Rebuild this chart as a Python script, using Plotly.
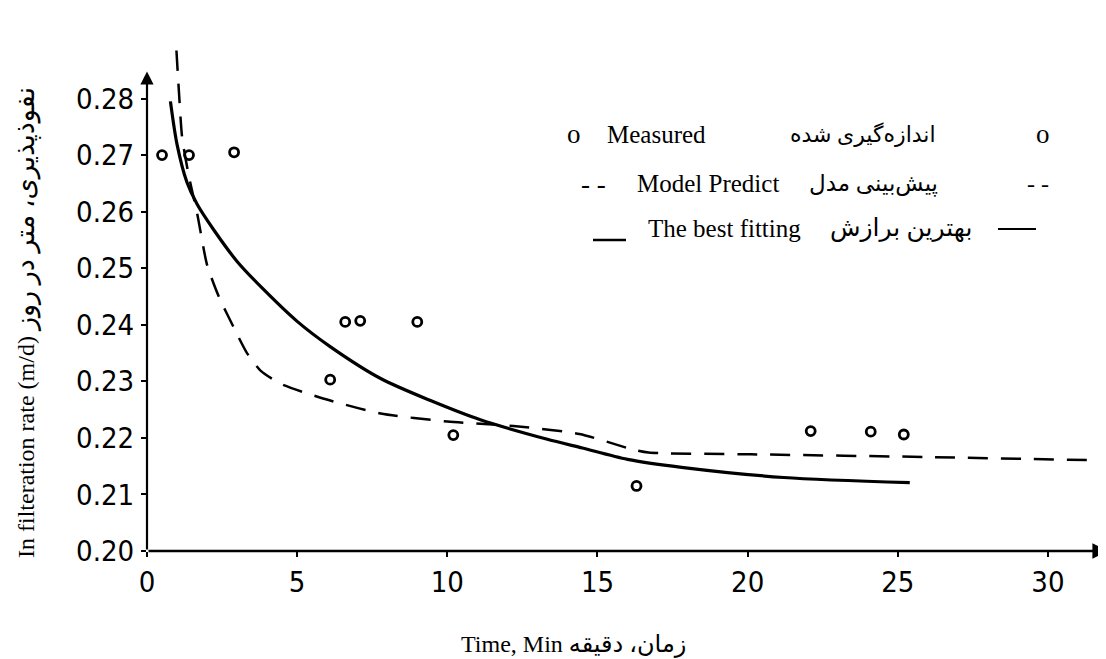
import plotly.graph_objects as go

# ---- data ----
meas_x = [0.5, 1.4, 2.9, 6.1, 6.6, 7.1, 9.0, 10.2, 16.3, 22.1, 24.1, 25.2]
meas_y = [0.270, 0.270, 0.2705, 0.2303, 0.2405, 0.2407, 0.2405, 0.2205, 0.2115, 0.2212, 0.2211, 0.2206]

fit_x = [0.78, 1.0, 1.33, 1.67, 2.22, 3.0, 3.89, 5.0, 6.11, 7.78, 9.44, 11.1, 13.3, 14.5, 16.0, 17.8, 21.2, 25.4]
fit_y = [0.2795, 0.2719, 0.2652, 0.2613, 0.2568, 0.2512, 0.2462, 0.2406, 0.2361, 0.2305, 0.2266,
         0.2232, 0.2198, 0.2182, 0.2162, 0.2148, 0.2130, 0.2121]

model_x = [0.98, 1.06, 1.17, 1.39, 1.67, 2.0, 2.39, 2.89, 3.33, 3.78, 4.44, 5.78, 7.78, 10.0, 12.2,
           14.4, 16.2, 16.7, 20.1, 26.2, 32.0]
model_y = [0.2885, 0.2815, 0.2731, 0.2664, 0.2597, 0.2506, 0.245, 0.2395, 0.235, 0.2319, 0.2296,
           0.2271, 0.2243, 0.2229, 0.2221, 0.2207, 0.2179, 0.2174, 0.2171, 0.2166, 0.2160]

x_ticks = [0, 5, 10, 15, 20, 25, 30]
y_ticks = [0.20, 0.21, 0.22, 0.23, 0.24, 0.25, 0.26, 0.27, 0.28]
y_ticktext = ["0.20", "0.21", "0.22", "0.23", "0.24", "0.25", "0.26", "0.27", "0.28"]

x_title = "Time, Min زمان، دقیقه"
y_title_en = "In filteration rate (m/d)"
y_title_fa = "نفوذپذیری، متر در روز"

legend_en = ["Measured", "Model Predict", "The best fitting"]
legend_fa = ["اندازه‌گیری شده", "پیش‌بینی مدل", "بهترین برازش"]
legend_left = ["o", "- -", ""]
legend_right = ["o", "- -", ""]

X_MAX = 32.0
Y_MIN, Y_MAX = 0.20, 0.29
Y_ARROW = 0.2848

serif = "Liberation Serif, Times New Roman, DejaVu Serif, DejaVu Sans"
tickfam = "DejaVu Sans Condensed, Liberation Sans Narrow, DejaVu Sans"

W, H = 1106, 659
L, R, T, B = 139, 6, 34, 116
PW, PH = W - L - R, H - T - B


def px(xp):
    return (xp - L) / PW


def py(yp):
    return 1 - (yp - T) / PH


fig = go.Figure()

fig.add_trace(go.Scatter(
    x=model_x, y=model_y, mode="lines", cliponaxis=False,
    line=dict(color="black", width=2.5, dash="20px,13px", shape="spline", smoothing=0.6),
    showlegend=False, hoverinfo="skip"))

fig.add_trace(go.Scatter(
    x=fit_x, y=fit_y, mode="lines",
    line=dict(color="black", width=3.2, shape="spline", smoothing=0.8),
    showlegend=False, hoverinfo="skip"))

fig.add_trace(go.Scatter(
    x=meas_x, y=meas_y, mode="markers",
    marker=dict(symbol="circle-open", size=9, color="black", line=dict(width=2.8, color="black")),
    showlegend=False, hoverinfo="skip"))

# axis lines with arrows
fig.add_annotation(x=X_MAX, y=Y_MIN, ax=0, ay=Y_MIN, xref="x", yref="y", axref="x", ayref="y",
                   text="", showarrow=True, arrowhead=2, arrowsize=1.2, arrowwidth=2.6, arrowcolor="black")
fig.add_annotation(x=0, y=Y_ARROW, ax=0, ay=Y_MIN, xref="x", yref="y", axref="x", ayref="y",
                   text="", showarrow=True, arrowhead=2, arrowsize=1.2, arrowwidth=2.2, arrowcolor="black")

# legend block (pixel positions -> paper)
rows_y = [126, 176, 220]
left_x = [566, 585, None]
en_x = [648, 700, 716]
fa_x = [855, 865, 893]
right_x = [1035, 1030, None]
fa_size = [22, 23, 25]
for i in range(3):
    if legend_left[i]:
        fig.add_annotation(x=px(left_x[i]), y=py(rows_y[i]), xref="paper", yref="paper",
                           text=legend_left[i], showarrow=False, xanchor="center", yanchor="middle",
                           font=dict(family=serif, size=27, color="black"))
    fig.add_annotation(x=px(en_x[i]), y=py(rows_y[i]), xref="paper", yref="paper",
                       text=legend_en[i], showarrow=False, xanchor="center", yanchor="middle",
                       font=dict(family=serif, size=25, color="black"))
    fig.add_annotation(x=px(fa_x[i]), y=py(rows_y[i]), xref="paper", yref="paper",
                       text=legend_fa[i], showarrow=False, xanchor="center", yanchor="middle",
                       font=dict(family=serif, size=fa_size[i], color="black"))
    if legend_right[i]:
        fig.add_annotation(x=px(right_x[i]), y=py(rows_y[i]), xref="paper", yref="paper",
                           text=legend_right[i], showarrow=False, xanchor="center", yanchor="middle",
                           font=dict(family=serif, size=27 if legend_right[i] == "o" else 24, color="black"))

# solid samples for "The best fitting"
fig.add_shape(type="line", xref="paper", yref="paper",
              x0=px(585), x1=px(618), y0=py(232), y1=py(232),
              line=dict(color="black", width=2.5))
fig.add_shape(type="line", xref="paper", yref="paper",
              x0=px(990), x1=px(1028), y0=py(221), y1=py(221),
              line=dict(color="black", width=2.2))

# axis titles
fig.add_annotation(x=px(565), y=py(636), xref="paper", yref="paper",
                   text=x_title, showarrow=False, xanchor="center", yanchor="middle",
                   font=dict(family=serif, size=24, color="black"))
fig.add_annotation(x=px(17), y=py(315), xref="paper", yref="paper",
                   text=y_title_en + " <span style='font-size:27px'>" + y_title_fa + "</span>",
                   showarrow=False, textangle=-90, xanchor="center", yanchor="middle",
                   font=dict(family=serif, size=24, color="black"))

fig.update_layout(
    width=W, height=H,
    margin=dict(l=L, r=R, t=T, b=B),
    paper_bgcolor="white", plot_bgcolor="white",
    showlegend=False,
    xaxis=dict(range=[0, X_MAX], showline=False, showgrid=False, zeroline=False,
               tickmode="array", tickvals=x_ticks, ticks="outside", ticklen=5, tickwidth=2,
               tickcolor="black", ticklabelstandoff=0,
               tickfont=dict(family=tickfam, size=29, color="black")),
    yaxis=dict(range=[Y_MIN, Y_MAX], showline=False, showgrid=False, zeroline=False,
               tickmode="array", tickvals=y_ticks, ticktext=y_ticktext, ticks="outside",
               ticklen=5, tickwidth=2, tickcolor="black", ticklabelstandoff=1,
               tickfont=dict(family=tickfam, size=29, color="black")),
)

fig.write_html("out.html")
